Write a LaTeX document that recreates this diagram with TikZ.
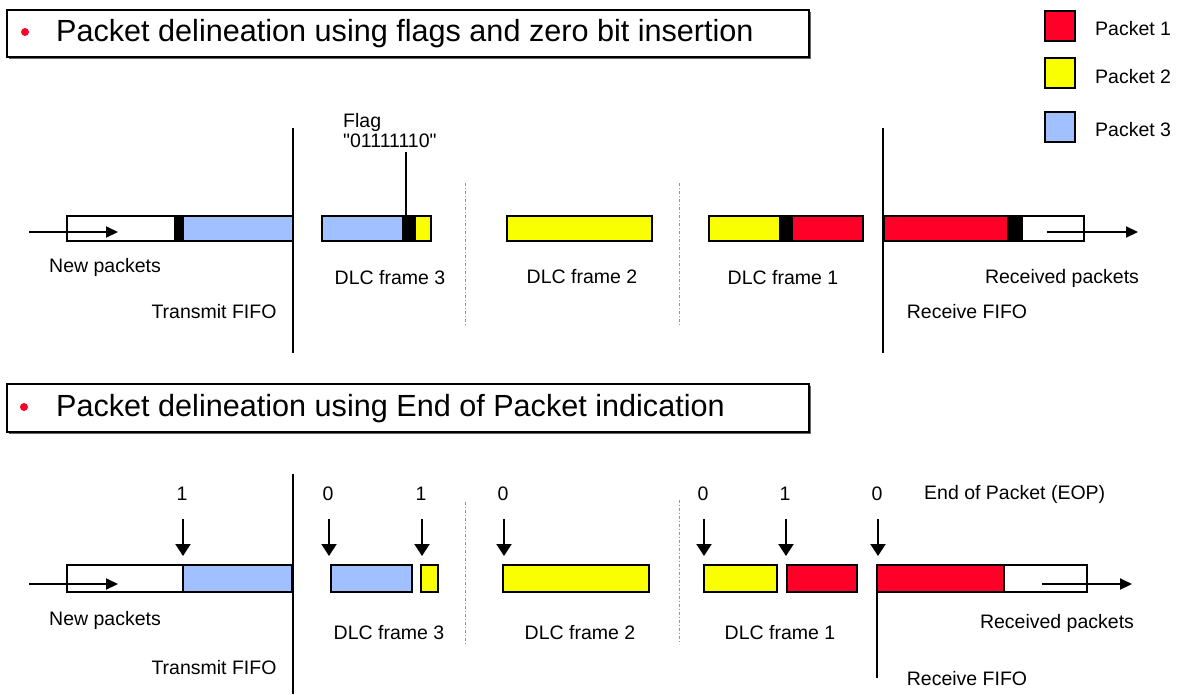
\documentclass[tikz,border=0pt]{standalone}
\usepackage{fontspec}
\setmainfont{Liberation Sans}
\newfontfamily\straightquotes{Liberation Sans}[Ligatures=TeXOff]
\usetikzlibrary{arrows.meta}

\definecolor{pred}{RGB}{255,0,40}
\definecolor{pyellow}{RGB}{250,255,0}
\definecolor{pblue}{RGB}{160,192,255}
\definecolor{sepgray}{RGB}{150,150,150}

\tikzset{
  pbar/.style={draw=black, line width=2pt, outer sep=0pt, inner sep=0pt, anchor=north west},
  lbl/.style={font=\fontsize{19.5}{23}\selectfont, inner sep=0pt},
  titletext/.style={font=\fontsize{30.6}{34}\selectfont, inner sep=0pt, anchor=west},
  titlebox/.style={draw=black, line width=2pt, fill=white},
  flow/.style={line width=2pt, -{Triangle[length=12pt,width=11pt]}},
  eop/.style={line width=2pt, -{Triangle[length=12pt,width=15pt]}},
  divider/.style={line width=2.2pt},
  sep/.style={draw=sepgray, line width=0.8pt, dash pattern=on 3pt off 2pt on 1pt off 2pt},
  legendsq/.style={draw=black, line width=2pt, minimum width=30pt, minimum height=30pt, inner sep=0pt, outer sep=0pt}
}

% \pbar{name}{fill}{x1}{y1}{x2}{y2}: one segment of a FIFO or frame bar
\newcommand\pbar[6]{%
  \node[pbar, fill=#2, minimum width={#5-#3}, minimum height={#6-#4}] (#1) at (#3,#4) {};}

\begin{document}
\begin{tikzpicture}[x=1pt, y=-1pt]
\useasboundingbox (0,0) rectangle (1177,694);

% ---------- headings ----------
\fill[black!60] (9,12) rectangle (811,59);
\draw[titlebox] (7,10) rectangle (809,57);
\fill[pred] (25,32) circle (4pt);
\node[titletext] (title1) at (56,34) {Packet delineation using flags and zero bit insertion};

\fill[black!60] (9,386) rectangle (811,434);
\draw[titlebox] (7,384) rectangle (809,432);
\fill[pred] (24,407) circle (4pt);
\node[titletext] (title2) at (56,409) {Packet delineation using End of Packet indication};

% ---------- legend ----------
\node[legendsq, fill=pred]    (leg1) at (1060,26)  {};
\node[legendsq, fill=pyellow] (leg2) at (1060,73)  {};
\node[legendsq, fill=pblue]   (leg3) at (1060,127) {};
\node[lbl, anchor=west] (legt1) at (1095,29)  {Packet 1};
\node[lbl, anchor=west] (legt2) at (1095,77)  {Packet 2};
\node[lbl, anchor=west] (legt3) at (1095,130) {Packet 3};

% ---------- row 1: flags and zero bit insertion ----------
\draw[divider] (293,128) -- (293,353);
\draw[divider] (883,128) -- (883,353);
\draw[sep] (465,183) -- (465,327);
\draw[sep] (679,183) -- (679,325);

\pbar{ta}{white}{67}{216}{175}{241}
\pbar{tb}{black}{175}{216}{183}{241}
\pbar{tc}{pblue}{183}{216}{293}{241}

\pbar{fa}{pblue}{322}{216}{403}{241}
\pbar{fb}{black}{403}{216}{415}{241}
\pbar{fc}{pyellow}{415}{216}{431}{241}

\pbar{ga}{pyellow}{507}{216}{652}{241}

\pbar{ha}{pyellow}{709}{216}{780}{241}
\pbar{hb}{black}{780}{216}{792}{241}
\pbar{hc}{pred}{792}{216}{863}{241}

\pbar{ra}{pred}{884}{216}{1008}{241}
\pbar{rb}{black}{1008}{216}{1022}{241}
\pbar{rc}{white}{1022}{216}{1084}{241}

\coordinate (in1s) at (29,232);
\coordinate (in1e) at (118,232);
\draw[flow] (in1s) -- (in1e);
\coordinate (out1s) at (1047,232);
\coordinate (out1e) at (1138,232);
\draw[flow] (out1s) -- (out1e);

\coordinate (flagtop) at (406,152);
\draw[line width=2pt] (flagtop) -- (flagtop |- fb.north);
\node[lbl, anchor=west] (flagname) at (343,122) {Flag};
\node[lbl, anchor=west] (flagbits) at (343,141) {\straightquotes "01111110"};

\node[lbl] (new1)  at (105,267)  {New packets};
\node[lbl] (tx1)   at (214,312)  {Transmit FIFO};
\node[lbl] (dlc13) at (390,278)  {DLC frame 3};
\node[lbl] (dlc12) at (582,277)  {DLC frame 2};
\node[lbl] (dlc11) at (783,278)  {DLC frame 1};
\node[lbl] (rcv1)  at (1062,278) {Received packets};
\node[lbl] (rx1)   at (967,312)  {Receive FIFO};

% ---------- row 2: end of packet indication ----------
\draw[divider] (293,474) -- (293,694);
\draw[sep] (465,502) -- (465,645);
\draw[sep] (679,500) -- (679,644);

\pbar{ua}{white}{67}{565}{183}{592}
\pbar{ub}{pblue}{183}{565}{292}{592}

\pbar{va}{pblue}{331}{565}{412}{592}
\pbar{vb}{pyellow}{421}{565}{438}{592}

\pbar{wa}{pyellow}{503}{565}{649}{592}

\pbar{xa}{pyellow}{704}{565}{777}{592}
\pbar{xb}{pred}{787}{565}{857}{592}

\pbar{ya}{pred}{877}{565}{1004}{592}
\pbar{yb}{white}{1004}{565}{1087}{592}

\draw[divider] (ya.north west) -- (877,678);

\coordinate (in2s) at (29,584);
\coordinate (in2e) at (118,584);
\draw[flow] (in2s) -- (in2e);
\coordinate (out2s) at (1042,584);
\coordinate (out2e) at (1132,584);
\draw[flow] (out2s) -- (out2e);

% EOP bits with their markers
\foreach \x/\bit/\n in {183/1/a, 329/0/b, 422/1/c, 504/0/d, 704/0/e, 786/1/f, 878/0/g}{
  \node[lbl] (bit\n) at (\x-1,494) {\bit};
  \coordinate (eops\n) at (\x,519);
  \coordinate (eope\n) at (\x,556);
  \draw[eop] (eops\n) -- (eope\n);
}
\node[lbl, anchor=west] (eoplabel) at (924,494) {End of Packet (EOP)};

\node[lbl] (new2)  at (105,620)  {New packets};
\node[lbl] (tx2)   at (214,668)  {Transmit FIFO};
\node[lbl] (dlc23) at (389,633)  {DLC frame 3};
\node[lbl] (dlc22) at (580,633)  {DLC frame 2};
\node[lbl] (dlc21) at (780,633)  {DLC frame 1};
\node[lbl] (rcv2)  at (1057,623) {Received packets};
\node[lbl] (rx2)   at (967,679)  {Receive FIFO};
\end{tikzpicture}
\end{document}
